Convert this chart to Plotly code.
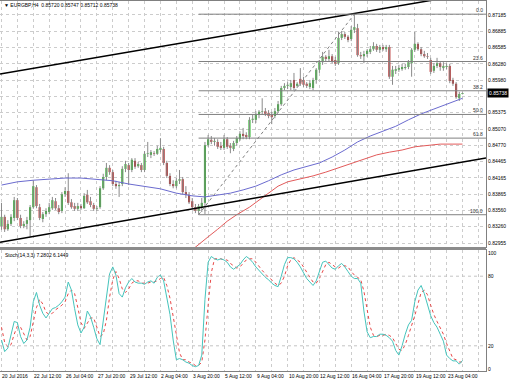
import plotly.graph_objects as go

# ---------------- data ----------------
time_label_bars = [0, 10, 20, 30, 40, 50, 60, 70, 80, 90, 100, 110, 120, 130, 140]
time_labels = ["20 Jul 2016", "22 Jul 12:00", "26 Jul 04:00", "27 Jul 20:00", "29 Jul 12:00",
               "2 Aug 04:00", "3 Aug 20:00", "5 Aug 12:00", "9 Aug 04:00", "10 Aug 20:00",
               "12 Aug 12:00", "16 Aug 04:00", "17 Aug 20:00", "19 Aug 12:00", "23 Aug 04:00"]

opens = [.8327, .8344, .8321, .8331, .8342, .8375, .8342, .8327, .8331, .8338,
         .8362, .8399, .8362, .8340, .8349, .8353, .8360, .8373, .8360, .8355,
         .8386, .8392, .8371, .8364, .8359, .8364, .8360, .8385, .8373, .8366,
         .8359, .8362, .8397, .8418, .8435, .8427, .8405, .8401, .8405, .8433,
         .8440, .8431, .8448, .8438, .8440, .8431, .8461, .8459, .8462, .8461,
         .8468, .8470, .8444, .8420, .8405, .8401, .8411, .8414, .8390, .8385,
         .8373, .8362, .8355, .8362, .8370, .8477, .8487, .8483, .8483, .8476,
         .8472, .8488, .8476, .8470, .8481, .8488, .8498, .8496, .8492, .8524,
         .8524, .8533, .8539, .8540, .8537, .8533, .8531, .8540, .8553, .8583,
         .8587, .8585, .8598, .8587, .8600, .8598, .8591, .8585, .8583, .8598,
         .8617, .8631, .8641, .8637, .8642, .8635, .8629, .8676, .8683, .8678,
         .8674, .8691, .8694, .8644, .8642, .8646, .8650, .8655, .8661, .8654,
         .8659, .8655, .8659, .8604, .8615, .8617, .8618, .8620, .8622, .8629,
         .8654, .8665, .8655, .8646, .8642, .8635, .8615, .8624, .8629, .8620,
         .8622, .8624, .8598, .8591, .8564, .85720]
highs = [.8370, .8348, .8338, .8349, .8381, .8379, .8348, .8336, .8344, .8366,
         .8412, .8403, .8368, .8353, .8360, .8370, .8381, .8379, .8366, .8390,
         .8399, .8425, .8377, .8370, .8370, .8368, .8388, .8394, .8381, .8370,
         .8364, .8401, .8424, .8444, .8440, .8431, .8411, .8409, .8438, .8448,
         .8444, .8453, .8453, .8446, .8444, .8466, .8483, .8468, .8466, .8476,
         .8490, .8474, .8448, .8425, .8412, .8416, .8431, .8418, .8401, .8390,
         .8379, .8368, .8368, .8379, .8483, .8496, .8494, .8490, .8488, .8483,
         .8496, .8492, .8481, .8485, .8494, .8503, .8509, .8501, .8529, .8533,
         .8540, .8542, .8564, .8546, .8542, .8539, .8546, .8559, .8587, .8592,
         .8594, .8598, .8611, .8594, .8620, .8604, .8594, .8598, .8602, .8620,
         .8635, .8650, .8644, .8654, .8646, .8641, .8687, .8689, .8687, .8681,
         .8698, .8720, .8702, .8650, .8652, .8655, .8661, .8668, .8665, .8663,
         .8663, .8663, .8663, .8624, .8624, .8626, .8628, .8628, .8635, .8657,
         .8687, .8668, .8659, .8652, .8648, .8639, .8629, .8639, .8633, .8631,
         .8629, .8628, .8602, .8594, .8576, .85747]
lows = [.8320, .8316, .8318, .8327, .8336, .8338, .8323, .8323, .8321, .8307,
        .8359, .8360, .8338, .8334, .8344, .8349, .8357, .8357, .8349, .8351,
        .8381, .8366, .8359, .8355, .8355, .8357, .8359, .8368, .8362, .8355,
        .8355, .8359, .8394, .8412, .8422, .8401, .8396, .8381, .8401, .8427,
        .8403, .8427, .8433, .8435, .8427, .8427, .8455, .8453, .8457, .8459,
        .8464, .8440, .8416, .8401, .8397, .8397, .8405, .8386, .8379, .8368,
        .8359, .8351, .8348, .8353, .8349, .8474, .8479, .8476, .8470, .8468,
        .8468, .8470, .8462, .8466, .8476, .8485, .8488, .8488, .8488, .8518,
        .8518, .8527, .8533, .8531, .8527, .8516, .8527, .8537, .8550, .8579,
        .8581, .8579, .8579, .8583, .8587, .8585, .8583, .8581, .8579, .8591,
        .8611, .8626, .8633, .8633, .8629, .8624, .8626, .8672, .8674, .8668,
        .8670, .8685, .8641, .8637, .8629, .8641, .8646, .8652, .8650, .8648,
        .8652, .8650, .8600, .8589, .8609, .8613, .8615, .8617, .8618, .8604,
        .8650, .8652, .8642, .8639, .8637, .8609, .8611, .8620, .8615, .8615,
        .8618, .8592, .8587, .8563, .8559, .85712]
closes = [.8344, .8321, .8331, .8344, .8375, .8342, .8327, .8331, .8338, .8362,
          .8401, .8364, .8342, .8349, .8355, .8362, .8375, .8360, .8353, .8386,
          .8392, .8370, .8362, .8359, .8364, .8360, .8383, .8371, .8366, .8359,
          .8360, .8397, .8418, .8435, .8427, .8405, .8401, .8403, .8433, .8442,
          .8431, .8450, .8437, .8442, .8431, .8461, .8462, .8464, .8461, .8470,
          .8472, .8444, .8420, .8405, .8401, .8411, .8414, .8390, .8385, .8371,
          .8362, .8355, .8364, .8370, .8477, .8488, .8483, .8485, .8474, .8472,
          .8488, .8474, .8472, .8481, .8490, .8498, .8494, .8492, .8524, .8526,
          .8535, .8539, .8540, .8535, .8531, .8529, .8540, .8553, .8583, .8587,
          .8589, .8592, .8583, .8591, .8591, .8589, .8587, .8592, .8598, .8617,
          .8631, .8641, .8637, .8642, .8633, .8628, .8676, .8683, .8678, .8672,
          .8691, .8696, .8644, .8642, .8646, .8652, .8655, .8661, .8654, .8659,
          .8655, .8659, .8604, .8617, .8618, .8620, .8622, .8622, .8631, .8654,
          .8665, .8655, .8646, .8642, .8641, .8613, .8624, .8629, .8622, .8624,
          .8624, .8596, .8591, .8566, .8572, .85738]

# moving averages (bar index, price)
ma_blue_bars = [0, 5, 10, 15, 20, 25, 30, 35, 40, 45, 50, 55, 60, 64, 68, 72, 76, 80, 84, 88,
                92, 96, 100, 104, 108, 112, 116, 120, 124, 128, 132, 136, 140, 145]
ma_blue = [.8403, .8409, .8412, .8414, .8416, .8416, .8414, .8411, .8405, .8401, .8396, .8388,
           .8383, .8381, .8385, .8388, .8394, .8401, .8411, .8422, .8431, .8437, .8444, .8455,
           .8468, .8483, .8494, .8503, .8512, .8524, .8535, .8544, .8553, .8564]
ma_red_bars = [60, 62, 65, 68, 71, 74, 78, 81, 84, 87, 90, 94, 98, 102, 106, 110, 114, 118,
               122, 126, 130, 134, 138, 142, 145]
ma_red = [.8283, .8292, .8307, .8321, .8336, .8348, .8362, .8375, .8388, .8401, .8409, .8414,
          .8420, .8427, .8435, .8442, .8451, .8459, .8464, .8468, .8474, .8477, .8479, .8479, .8479]

# stochastic (14,3,3)
stoch_k = [25, 15, 18, 30, 41, 40, 28, 22, 25, 36,
           58, 66, 55, 48, 44, 48, 52, 53, 55, 58,
           62, 75, 68, 52, 38, 31, 36, 50, 45, 36,
           26, 21, 42, 62, 82, 88, 81, 65, 62, 70,
           75, 78, 75, 74, 74, 73, 75, 76, 74, 79,
           81, 76, 60, 47, 25, 8, 9, 8, 6, 5,
           3, 2, 3, 12, 60, 92, 97, 95, 94, 95,
           94, 92, 88, 86, 88, 90, 94, 97, 95, 92,
           88, 85, 82, 79, 77, 74, 72, 71, 80, 90,
           96, 96, 95, 92, 88, 83, 78, 75, 72, 76,
           85, 92, 93, 90, 87, 86, 89, 91, 88, 84,
           80, 78, 78, 74, 50, 32, 27, 28, 28, 30,
           30, 29, 27, 24, 16, 12, 20, 30, 38, 42,
           58, 68, 72, 65, 55, 46, 40, 36, 30, 24,
           12, 9, 7, 7, 4.2, 7.2802]
stoch_d = [36, 23, 19, 21, 30, 37, 36, 30, 25, 28,
           40, 53, 60, 56, 49, 47, 48, 51, 53, 55,
           58, 65, 68, 65, 53, 40, 35, 39, 44, 44,
           36, 28, 30, 42, 62, 77, 84, 78, 69, 66,
           69, 74, 76, 76, 74, 74, 74, 75, 75, 76,
           78, 79, 72, 61, 44, 27, 14, 8, 8, 6,
           5, 3, 3, 6, 25, 55, 83, 95, 95, 95,
           94, 94, 91, 89, 87, 88, 91, 94, 95, 95,
           92, 88, 85, 82, 79, 77, 74, 72, 74, 80,
           89, 94, 96, 94, 92, 88, 83, 79, 75, 74,
           78, 84, 90, 92, 90, 88, 87, 89, 89, 88,
           84, 81, 79, 77, 67, 52, 36, 29, 28, 29,
           29, 30, 29, 27, 22, 17, 16, 21, 29, 37,
           46, 56, 66, 68, 64, 55, 47, 41, 35, 30,
           22, 15, 9, 8, 6, 6.1449]

# trend channel anchors (bar, price)
chan_bars = [-0.47, 152.4]
chan_upper = [.8609, .8763]
chan_lower = [.8297, .8453]

# fibonacci retracement
fib_bars = [62, 111]
fib_prices = [.8348, .8720]
fib_levels = [0.0, 23.6, 38.2, 50.0, 61.8, 100.0]

# price scale
price_ticks = [0.87185 - k * 0.00302143 for k in range(15)]
price_tick_text = ["0.87185", "0.86885", "0.86585", "0.86280", "0.85980", "", "0.85375",
                   "0.85070", "0.84770", "0.84465", "0.84165", "0.83865", "0.83560",
                   "0.83260", "0.82955"]
last_price = 0.85738
stoch_ticks = [0, 20, 80, 100]

# ---------------- layout helpers ----------------
W, H = 510, 382
ML, MR, MT, MB = 0, 24, 1, 11
PH = H - MT - MB
PW = W - ML - MR


def py(p):
    return (H - MB - p) / PH


def pxp(p):
    return (p - ML) / PW


XMIN, XMAX = -0.47, 152.4
FONT = "Liberation Sans, Arial, sans-serif"
FS = 5
n = len(closes)
bars = list(range(n))

fig = go.Figure()

# wicks
wx, wy = [], []
for i in bars:
    wx += [i, i, None]
    wy += [lows[i], highs[i], None]
fig.add_trace(go.Scatter(x=wx, y=wy, mode="lines", line=dict(color="#8a8a8a", width=1),
                         xaxis="x", yaxis="y", hoverinfo="skip", showlegend=False))

# bodies
minh = 0.00012
base, hgt, cols = [], [], []
for o, c in zip(opens, closes):
    lo, hi = min(o, c), max(o, c)
    d = hi - lo
    if d < minh:
        lo -= (minh - d) / 2
        d = minh
    base.append(lo)
    hgt.append(d)
    cols.append("#2fb52f" if c >= o else "#b52626")
fig.add_trace(go.Bar(x=bars, y=hgt, base=base, width=0.66,
                     marker=dict(color=cols, line=dict(width=0)),
                     xaxis="x", yaxis="y", hoverinfo="skip", showlegend=False))

# moving averages
fig.add_trace(go.Scatter(x=ma_blue_bars, y=ma_blue, mode="lines",
                         line=dict(color="#6b6bcf", width=1), xaxis="x", yaxis="y",
                         hoverinfo="skip", showlegend=False))
fig.add_trace(go.Scatter(x=ma_red_bars, y=ma_red, mode="lines",
                         line=dict(color="#e25a5a", width=1), xaxis="x", yaxis="y",
                         hoverinfo="skip", showlegend=False))

# channel
for arr in (chan_upper, chan_lower):
    fig.add_trace(go.Scatter(x=chan_bars, y=arr, mode="lines",
                             line=dict(color="#000000", width=1.5), xaxis="x", yaxis="y",
                             hoverinfo="skip", showlegend=False))

# fibonacci
f_lo, f_hi = fib_prices
for lv in fib_levels:
    p = f_hi - lv / 100.0 * (f_hi - f_lo)
    fig.add_trace(go.Scatter(x=[fib_bars[0], XMAX], y=[p, p], mode="lines",
                             line=dict(color="#808080", width=1), xaxis="x", yaxis="y",
                             hoverinfo="skip", showlegend=False))
    fig.add_annotation(x=XMAX, y=p, xref="x", yref="y", text=f"{lv:.1f}", showarrow=False,
                       xanchor="right", yanchor="bottom", xshift=-1, yshift=-1,
                       font=dict(size=FS, color="#303030", family=FONT))
fig.add_trace(go.Scatter(x=fib_bars, y=fib_prices, mode="lines",
                         line=dict(color="#808080", width=1, dash="dot"), xaxis="x", yaxis="y",
                         hoverinfo="skip", showlegend=False))

# stochastic
fig.add_trace(go.Scatter(x=bars, y=stoch_d, mode="lines",
                         line=dict(color="#e84848", width=1, dash="dot"), xaxis="x2", yaxis="y2",
                         hoverinfo="skip", showlegend=False))
fig.add_trace(go.Scatter(x=bars, y=stoch_k, mode="lines",
                         line=dict(color="#45c4bc", width=1), xaxis="x2", yaxis="y2",
                         hoverinfo="skip", showlegend=False))
for lv in (20, 80):
    fig.add_trace(go.Scatter(x=[XMIN, XMAX], y=[lv, lv], mode="lines",
                             line=dict(color="#c4c4c4", width=1, dash="dot"), xaxis="x2", yaxis="y2",
                             hoverinfo="skip", showlegend=False))

grid_x = list(range(0, 153, 5))
main_dom = [py(247), 1]
sto_dom = [0, py(250)]
sto_range = [-(371 - 369) / 1.16, (369 - 250) / 1.16]
p_bottom = 0.87463 - 0.0001855 * 247
p_top = 0.87463 - 0.0001855 * 1

axis_common = dict(showline=True, linecolor="#808080", linewidth=1, mirror=True, zeroline=False)
fig.update_layout(
    width=W, height=H, margin=dict(l=ML, r=MR, t=MT, b=MB),
    paper_bgcolor="white", plot_bgcolor="white", hovermode=False, showlegend=False,
    font=dict(family=FONT, size=FS, color="black"),
    xaxis=dict(domain=[0, 1], range=[XMIN, XMAX], anchor="y", tickvals=grid_x,
               showticklabels=False, ticks="", showgrid=True, gridcolor="#cccccc",
               griddash="dot", gridwidth=1, **axis_common),
    yaxis=dict(domain=main_dom, range=[p_bottom, p_top], side="right", anchor="x",
               tickvals=price_ticks, ticktext=price_tick_text, ticks="",
               tickfont=dict(size=FS, family=FONT, color="black"),
               showgrid=True, gridcolor="#cccccc", griddash="dot", gridwidth=1, **axis_common),
    xaxis2=dict(domain=[0, 1], range=[XMIN, XMAX], anchor="y2", matches="x", tickvals=grid_x,
                showticklabels=False, ticks="", showgrid=True, gridcolor="#cccccc",
                griddash="dot", gridwidth=1, **axis_common),
    yaxis2=dict(domain=sto_dom, range=sto_range, side="right", anchor="x2",
                tickvals=stoch_ticks, ticktext=[str(v) for v in stoch_ticks], ticks="",
                tickfont=dict(size=FS, family=FONT, color="black"), showgrid=False,
                **axis_common),
)

# panel separator
fig.add_shape(type="rect", xref="paper", yref="paper", x0=0, x1=1, y0=py(250), y1=py(247),
              fillcolor="#8c8c8c", line=dict(width=0), layer="above")

# time labels
for b, t in zip(time_label_bars, time_labels):
    fig.add_annotation(x=b, y=py(376), xref="x2", yref="paper", text=t, showarrow=False,
                       xanchor="left", yanchor="middle", xshift=-1,
                       font=dict(size=FS, family=FONT, color="black"))

# header texts
fig.add_annotation(x=pxp(2), y=py(5), xref="paper", yref="paper",
                   text="\u25bc EURGBP,H4  0.85720 0.85747 0.85712 0.85738", showarrow=False,
                   xanchor="left", yanchor="middle", font=dict(size=FS, family=FONT, color="black"))
fig.add_annotation(x=pxp(3), y=py(255), xref="paper", yref="paper",
                   text=f"Stoch(14,3,3) {stoch_k[-1]:.4f} {stoch_d[-1]:.4f}", showarrow=False,
                   xanchor="left", yanchor="middle", font=dict(size=FS, family=FONT, color="black"))

# current price marker
fig.add_annotation(x=1, y=last_price, xref="paper", yref="y", text=f"{last_price:.5f}",
                   showarrow=False, xanchor="left", yanchor="middle", xshift=1,
                   bgcolor="black", borderpad=1, font=dict(size=FS, family=FONT, color="white"))

fig.write_html("out.html", config={"displayModeBar": False, "staticPlot": True},
               post_script="document.body.style.margin='0';document.body.style.padding='0';"
                           "document.body.style.overflow='hidden';")
